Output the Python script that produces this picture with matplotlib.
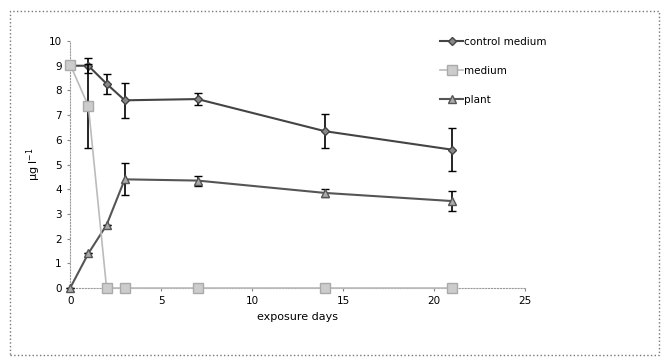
import matplotlib
matplotlib.use("Agg")
import matplotlib.pyplot as plt
from matplotlib.patches import Rectangle
from matplotlib.lines import Line2D

days = [0, 1, 2, 3, 7, 14, 21]
control = [9.0, 9.0, 8.27, 7.6, 7.65, 6.35, 5.6]
control_err = [0.0, 0.3, 0.4, 0.7, 0.25, 0.7, 0.87]
medium = [9.05, 7.37, 0.0, 0.0, 0.0, 0.0, 0.0]
medium_err = [0.0, 1.7, 0.0, 0.0, 0.0, 0.0, 0.0]
plant = [0.0, 1.4, 2.55, 4.4, 4.35, 3.85, 3.52]
plant_err = [0.0, 0.0, 0.0, 0.65, 0.2, 0.15, 0.4]

fig = plt.figure(figsize=(6.62, 3.60), dpi=100)
fig.patches.append(Rectangle((0.015, 0.015), 0.98, 0.955, transform=fig.transFigure,
                             fill=False, edgecolor="#777777", linestyle=":", linewidth=1.0))
ax = fig.add_axes([0.106, 0.2, 0.687, 0.686])

styles = [
    dict(color="#444444", marker="D", markersize=4.5, markerfacecolor="#888888",
         markeredgecolor="#444444", linewidth=1.5),
    dict(color="#bbbbbb", marker="s", markersize=6.5, markerfacecolor="#cccccc",
         markeredgecolor="#aaaaaa", linewidth=1.2),
    dict(color="#555555", marker="^", markersize=5.5, markerfacecolor="#aaaaaa",
         markeredgecolor="#555555", linewidth=1.5),
]
labels = ["control medium", "medium", "plant"]
series = [(control, control_err), (medium, medium_err), (plant, plant_err)]
zs = [3, 4, 3]
for (vals, err), st, z in zip(series, styles, zs):
    ax.errorbar(days, vals, yerr=err, ecolor="black", elinewidth=1.2, capsize=3,
                zorder=z, clip_on=False, **st)

ax.set_xlim(0, 25)
ax.set_ylim(0, 10)
ax.set_xticks([0, 5, 10, 15, 20, 25])
ax.set_yticks(range(0, 11))
ax.tick_params(labelsize=7.5, length=2, color="#888888", pad=4)
for s in ["top", "right"]:
    ax.spines[s].set_visible(False)
for s in ["left", "bottom"]:
    ax.spines[s].set_color("#999999")
    ax.spines[s].set_linestyle(":")
ax.set_xlabel("exposure days", fontsize=8)
ax.set_ylabel("µg l$^{-1}$", fontsize=8, labelpad=4)

handles = [Line2D([], [], **st) for st in styles]
ax.legend(handles, labels, loc="upper left", bbox_to_anchor=(0.805, 1.035), frameon=False,
          fontsize=7.5, handlelength=2.2, handletextpad=0.1, labelspacing=1.85,
          borderaxespad=0)

fig.savefig("out.png", dpi=100)
